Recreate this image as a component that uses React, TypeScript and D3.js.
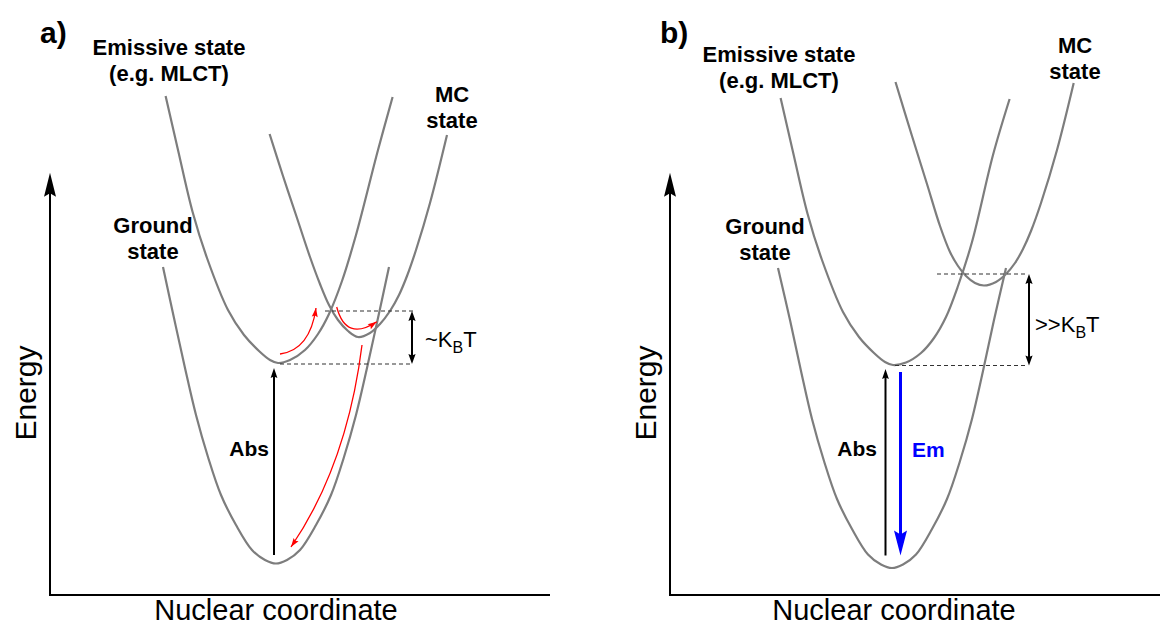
import * as d3 from "d3";

type Pt = [number, number];

// curves: [nuclear coordinate, energy] in arbitrary units
const groundA: Pt[] = [[22.6,65.6],[24.8,55.4],[27,45.4],[29.2,36],[31.6,27.6],[34.2,20],[37.2,14],[40.4,9],[43,7],[45.2,6.3],[47.4,7],[50,9],[53.2,14],[56.2,20],[58.8,27.6],[61.2,36],[63.4,45.4],[65.6,55.4],[67.8,65.6]];
const emissiveA: Pt[] = [[23.12,99.8],[25.6,89],[28.52,76.6],[31.4,67.4],[35.6,57],[38.8,52],[41.8,48.8],[44,47],[45.6,46.4],[48,47],[51,49],[53.6,52.2],[55.8,56.2],[58.4,62.8],[61.2,72],[65.6,89],[68.52,99.6]];
const mcA: Pt[] = [[43.92,92.2],[46.6,83.8],[49.4,75.4],[52,67.6],[54,62.2],[55.8,58],[57.6,55],[59.6,52.8],[61.6,51.6],[64,52.4],[66,54.2],[68,56.8],[69.8,60],[71.4,63.8],[73.2,69],[76,78.4],[79.4,92]];

const groundB: Pt[] = [[21.6,65.4],[24,55],[26.2,44.8],[28.4,35.2],[30.8,26.8],[33.4,19.2],[36.4,13.2],[39.6,8.1],[42.2,6.1],[44.4,5.4],[46.6,6.1],[49.2,8.1],[52.4,13.2],[55.4,19.2],[58,26.8],[60.4,35.2],[62.6,44.8],[64.8,55],[67.2,65.4]];
const emissiveB: Pt[] = [[22.12,99.4],[24.6,88.6],[27.52,76.2],[30.4,67],[34.6,56.6],[37.8,51.6],[40.8,48.4],[43,46.6],[44.6,46],[47.2,46.5],[50.2,48.4],[52.8,51.4],[55.2,55.6],[57.6,61.8],[60.4,70.6],[64.6,88],[67.92,99.2]];
const mcB: Pt[] = [[45.1,102.6],[48.4,91.8],[51.4,82.2],[54,73.8],[56,68.6],[57.6,65.8],[59.2,63.8],[61,62.4],[62.8,61.9],[65.2,62.6],[67.2,64.2],[69,66.4],[70.6,69.2],[72.2,72.8],[74.2,78.4],[77.4,89],[80.74,102.4]];

// energy levels (dashed) and the gap between them
const levelsA = [
  { e: 56.8, from: 55, to: 72.6 },
  { e: 46.2, from: 46, to: 72.6 },
];
const gapA = { x: 72.4, low: 46.2, high: 56.8 };
const levelsB = [
  { e: 64.2, from: 53.4, to: 71.6 },
  { e: 45.9, from: 45, to: 71.6 },
];
const gapB = { x: 71.8, low: 45.9, high: 64.2 };

// vertical transitions
const absA = { x: 44.8, from: 8, to: 45.4 };
const absB = { x: 43.1, from: 7.9, to: 45.2 };
const emB = { x: 46.1, from: 44.6, to: 7.9 };

// red relaxation paths in a): start, control, end
const relaxA: Pt[][] = [
  [[46, 48.2], [52, 49], [53.2, 57.4]],
  [[57.34, 57.6], [59.2, 50.6], [65.34, 54.66]],
  [[62.4, 50], [59.4, 26], [48.2, 9.6]],
];

const FONT = "'Liberation Sans', Arial, Helvetica, sans-serif";
const CURVE = "#7d7d7d";

const y = d3.scaleLinear().domain([0, 85]).range([595, 170]);
const xA = d3.scaleLinear().domain([0, 100]).range([50, 550]);
const xB = d3.scaleLinear().domain([0, 98]).range([670, 1160]);

function head(tip: Pt, from: Pt, len: number, hw: number, notch = 0) {
  const dx = tip[0] - from[0];
  const dy = tip[1] - from[1];
  const l = Math.hypot(dx, dy) || 1;
  const ux = dx / l, uy = dy / l;
  const nx = -uy, ny = ux;
  const bx = tip[0] - ux * len, by = tip[1] - uy * len;
  const p = d3.path();
  p.moveTo(tip[0], tip[1]);
  p.lineTo(bx + nx * hw, by + ny * hw);
  p.lineTo(tip[0] - ux * (len - notch), tip[1] - uy * (len - notch));
  p.lineTo(bx - nx * hw, by - ny * hw);
  p.closePath();
  return p.toString();
}

function Axes({ x0, x1 }: { x0: number; x1: number }) {
  const top = 172.7;
  return (
    <g>
      <line x1={x0} y1={y(0)} x2={x0} y2={top + 18} stroke="#000" strokeWidth={2} />
      <line x1={x0 - 1} y1={y(0)} x2={x1} y2={y(0)} stroke="#000" strokeWidth={2} />
      <path d={head([x0, top], [x0, y(0)], 24, 6, 3.5)} fill="#000" />
    </g>
  );
}

function Curves({ xs, data }: { xs: d3.ScaleLinear<number, number>; data: Pt[][] }) {
  const line = d3
    .line<Pt>()
    .x((d) => xs(d[0]))
    .y((d) => y(d[1]))
    .curve(d3.curveCatmullRom.alpha(0.5));
  return (
    <g fill="none" stroke={CURVE} strokeWidth={2.2} strokeLinejoin="round">
      {data.map((c, i) => (
        <path key={i} d={line(c) || ""} />
      ))}
    </g>
  );
}

function Levels({ xs, levels, gap }: { xs: d3.ScaleLinear<number, number>; levels: { e: number; from: number; to: number }[]; gap: { x: number; low: number; high: number } }) {
  const gx = xs(gap.x);
  const yl = y(gap.low), yh = y(gap.high);
  return (
    <g>
      {levels.map((l, i) => (
        <line key={i} x1={xs(l.from)} x2={xs(l.to)} y1={y(l.e)} y2={y(l.e)} stroke="#333" strokeWidth={1.2} strokeDasharray="4 3" />
      ))}
      <line x1={gx} x2={gx} y1={yh + 7} y2={yl - 7} stroke="#000" strokeWidth={2} />
      <path d={head([gx, yh], [gx, yl], 10, 3.6, 1.5)} fill="#000" />
      <path d={head([gx, yl], [gx, yh], 10, 3.6, 1.5)} fill="#000" />
    </g>
  );
}

function VArrow({ xs, a, color, width, len, hw, notch }: { xs: d3.ScaleLinear<number, number>; a: { x: number; from: number; to: number }; color: string; width: number; len: number; hw: number; notch: number }) {
  const px = xs(a.x);
  const y0 = y(a.from), y1 = y(a.to);
  const s = Math.sign(y1 - y0);
  return (
    <g>
      <line x1={px} x2={px} y1={y0} y2={y1 - s * (len - notch - 1)} stroke={color} strokeWidth={width} />
      <path d={head([px, y1], [px, y0], len, hw, notch)} fill={color} />
    </g>
  );
}

function Label({ x, y: ty, lines, anchor = "middle" }: { x: number; y: number; lines: string[]; anchor?: string }) {
  return (
    <text x={x} y={ty} textAnchor={anchor as any} fontFamily={FONT} fontWeight="bold" fontSize={22} fill="#000">
      {lines.map((l, i) => (
        <tspan key={i} x={x} dy={i === 0 ? 0 : 26}>
          {l}
        </tspan>
      ))}
    </text>
  );
}

export default function App() {
  return (
    <svg
      width={1160}
      height={626}
      viewBox="0 0 1160 626"
      style={{ position: "absolute", left: 0, top: 0, background: "#fff", display: "block" }}
    >
      {/* panel a */}
      <Axes x0={xA(0)} x1={xA(100)} />
      <Curves xs={xA} data={[groundA, emissiveA, mcA]} />
      <Levels xs={xA} levels={levelsA} gap={gapA} />
      <VArrow xs={xA} a={absA} color="#000" width={2} len={10} hw={3.4} notch={1.5} />
      <g fill="none" stroke="#ff0000" strokeWidth={1.3}>
        {relaxA.map((r, i) => {
          const p = d3.path();
          p.moveTo(xA(r[0][0]), y(r[0][1]));
          p.quadraticCurveTo(xA(r[1][0]), y(r[1][1]), xA(r[2][0]), y(r[2][1]));
          return <path key={i} d={p.toString()} />;
        })}
      </g>
      {relaxA.map((r, i) => (
        <path
          key={i}
          d={head([xA(r[2][0]), y(r[2][1])], [xA(r[1][0]), y(r[1][1])], 9, 3, 1.5)}
          fill="#ff0000"
        />
      ))}

      <text x={40} y={43} fontFamily={FONT} fontWeight="bold" fontSize={30}>a)</text>
      <Label x={169} y={55} lines={["Emissive state", "(e.g. MLCT)"]} />
      <Label x={452} y={102} lines={["MC", "state"]} />
      <Label x={153} y={233} lines={["Ground", "state"]} />
      <text x={269} y={456} textAnchor="end" fontFamily={FONT} fontWeight="bold" fontSize={21}>Abs</text>
      <text x={425} y={347} fontFamily={FONT} fontSize={22}>
        ~K<tspan fontSize={16} dy={6}>B</tspan><tspan dy={-6}>T</tspan>
      </text>
      <text transform="translate(36,393) rotate(-90)" textAnchor="middle" fontFamily={FONT} fontSize={30}>Energy</text>
      <text x={276} y={620} textAnchor="middle" fontFamily={FONT} fontSize={29}>Nuclear coordinate</text>

      {/* panel b */}
      <Axes x0={xB(0)} x1={xB(98)} />
      <Curves xs={xB} data={[groundB, emissiveB, mcB]} />
      <Levels xs={xB} levels={levelsB} gap={gapB} />
      <VArrow xs={xB} a={absB} color="#000" width={2} len={10} hw={3.4} notch={1.5} />
      <VArrow xs={xB} a={emB} color="#0000ff" width={3} len={25} hw={6.5} notch={4} />

      <text x={660} y={43} fontFamily={FONT} fontWeight="bold" fontSize={30}>b)</text>
      <Label x={779} y={62} lines={["Emissive state", "(e.g. MLCT)"]} />
      <Label x={1075} y={53} lines={["MC", "state"]} />
      <Label x={765} y={234} lines={["Ground", "state"]} />
      <text x={877} y={456} textAnchor="end" fontFamily={FONT} fontWeight="bold" fontSize={21}>Abs</text>
      <text x={912} y={457} fontFamily={FONT} fontWeight="bold" fontSize={21} fill="#0000ff">Em</text>
      <text x={1035} y={332} fontFamily={FONT} fontSize={22}>
        &gt;&gt;K<tspan fontSize={16} dy={6}>B</tspan><tspan dy={-6}>T</tspan>
      </text>
      <text transform="translate(656,393) rotate(-90)" textAnchor="middle" fontFamily={FONT} fontSize={30}>Energy</text>
      <text x={894} y={620} textAnchor="middle" fontFamily={FONT} fontSize={29}>Nuclear coordinate</text>
    </svg>
  );
}
